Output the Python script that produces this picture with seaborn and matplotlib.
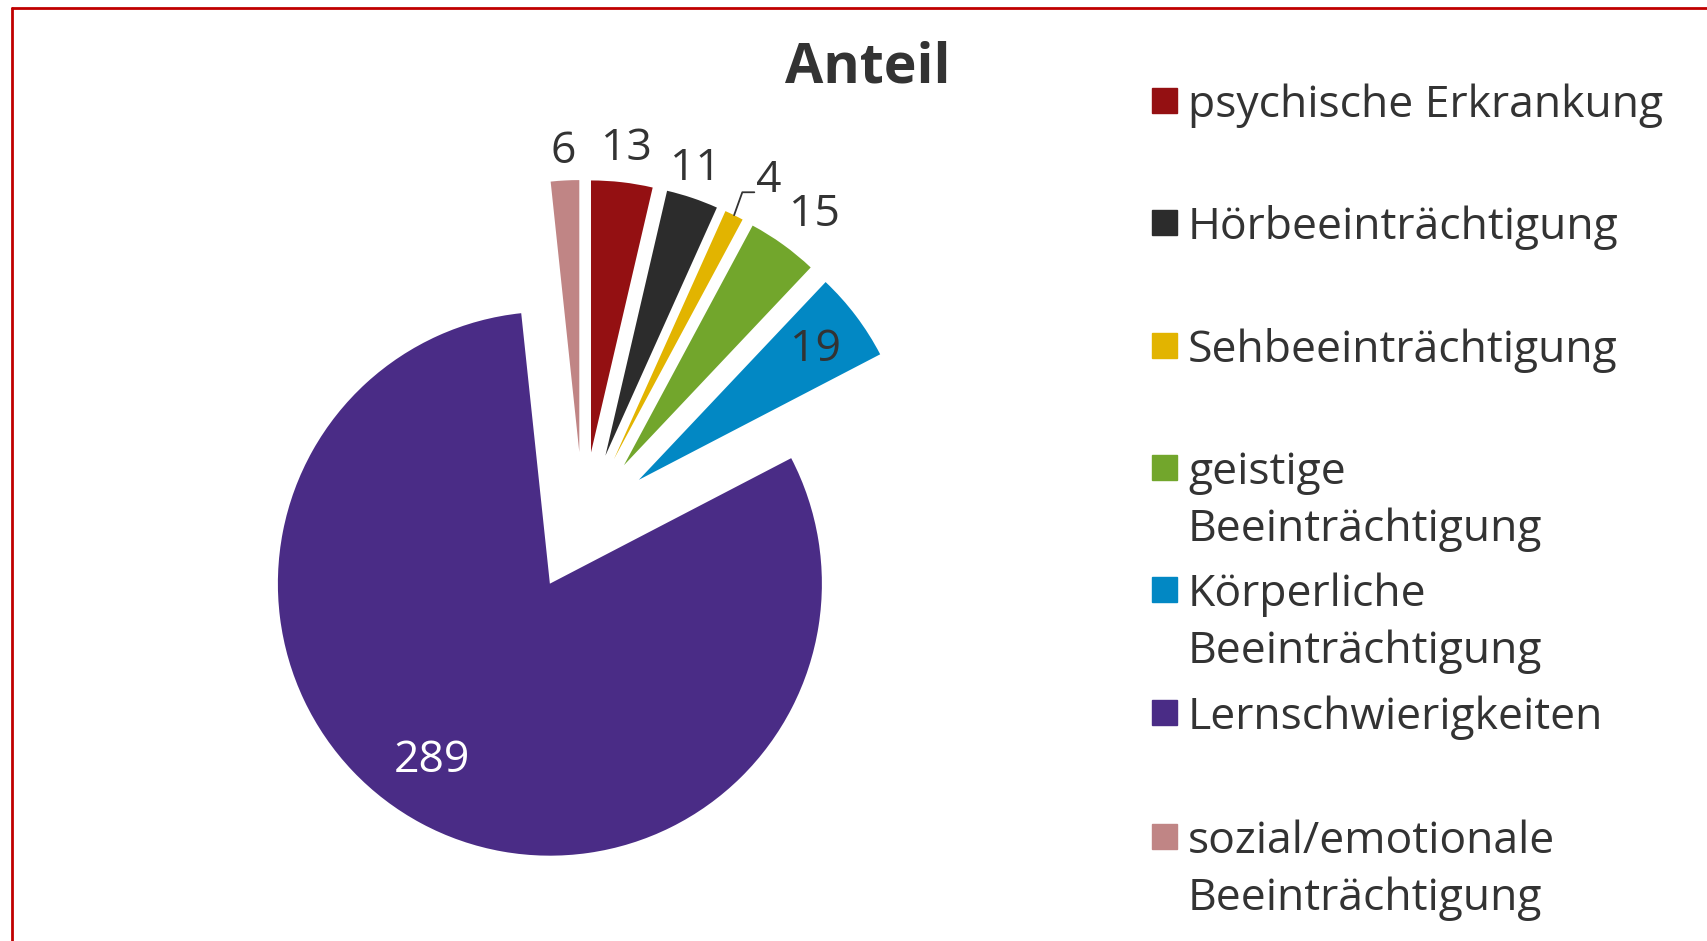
import numpy as np
import matplotlib.pyplot as plt
import seaborn as sns
from matplotlib.patches import Rectangle
from matplotlib.lines import Line2D

categories = ['psychische Erkrankung', 'Hörbeeinträchtigung', 'Sehbeeinträchtigung',
              'geistige\nBeeinträchtigung', 'Körperliche\nBeeinträchtigung',
              'Lernschwierigkeiten', 'sozial/emotionale\nBeeinträchtigung']
values = [13, 11, 4, 15, 19, 289, 6]
colors = ['#941012', '#2c2c2c', '#e2b400', '#72a62c', '#0288c4', '#4a2c86', '#c08585']

# label placement (fraction of radius, extra turn in degrees)
label_dist = [1.14, 1.12, 1.185, 1.17, 0.815, 0.77, 1.12]
label_turn = [0, 1.5, -2.4, -1, 0, -6, 0]
label_colors = ['#333333'] * 5 + ['white', '#333333']

sns.set_theme(style="white")
plt.rcParams['font.family'] = ['Open Sans', 'DejaVu Sans']

W, H = 1708, 941
fig = plt.figure(figsize=(W / 100, H / 100), dpi=100)
ax = fig.add_axes([0, 0, 1, 1])

wedges, _ = ax.pie(values, colors=colors, startangle=90, counterclock=False,
                   center=(583, H - 522), radius=272, explode=[70] * len(values),
                   wedgeprops=dict(linewidth=0), frame=True)
ax.set_xlim(0, W)
ax.set_ylim(0, H)
ax.set_aspect('equal')
ax.axis('off')

for w, v, d, t, c in zip(wedges, values, label_dist, label_turn, label_colors):
    mid = np.deg2rad((w.theta1 + w.theta2) / 2)
    th = mid + np.deg2rad(t)
    cx, cy = w.center
    x = cx + d * w.r * np.cos(th)
    y = cy + d * w.r * np.sin(th) - 4
    ax.text(x, y, str(v), ha='center', va='center', fontsize=32, color=c)
    if v == 4:
        # leader line from slice edge to label
        ex = cx + w.r * np.cos(mid)
        ey = cy + w.r * np.sin(mid)
        ax.plot([ex, x - 26, x - 14], [ey, y - 12, y - 12], color='#333333', lw=1.3)

fig.text(868 / W, 1 - 68 / H, 'Anteil', ha='center', va='center', fontsize=40,
         fontweight='bold', color='#333333')

# legend
row_y = [101, 223, 346, 468, 590, 713, 837]
for lab, col, ry in zip(categories, colors, row_y):
    fig.add_artist(Rectangle((1152 / W, 1 - (ry + 12) / H), 25 / W, 25 / H,
                             transform=fig.transFigure, color=col))
    for i, line in enumerate(lab.split('\n')):
        fig.text(1188 / W, 1 - (ry + 16 + 57 * i) / H, line, ha='left', va='baseline',
                 fontsize=32, color='#333333')

# red frame (only left and top visible)
fig.add_artist(Line2D([12 / W, 12 / W], [0, 1 - 8 / H], transform=fig.transFigure,
                      color='#c00000', lw=2))
fig.add_artist(Line2D([12 / W, 1], [1 - 8 / H, 1 - 8 / H], transform=fig.transFigure,
                      color='#c00000', lw=2))

fig.savefig('out.png', dpi=100, facecolor='white')
